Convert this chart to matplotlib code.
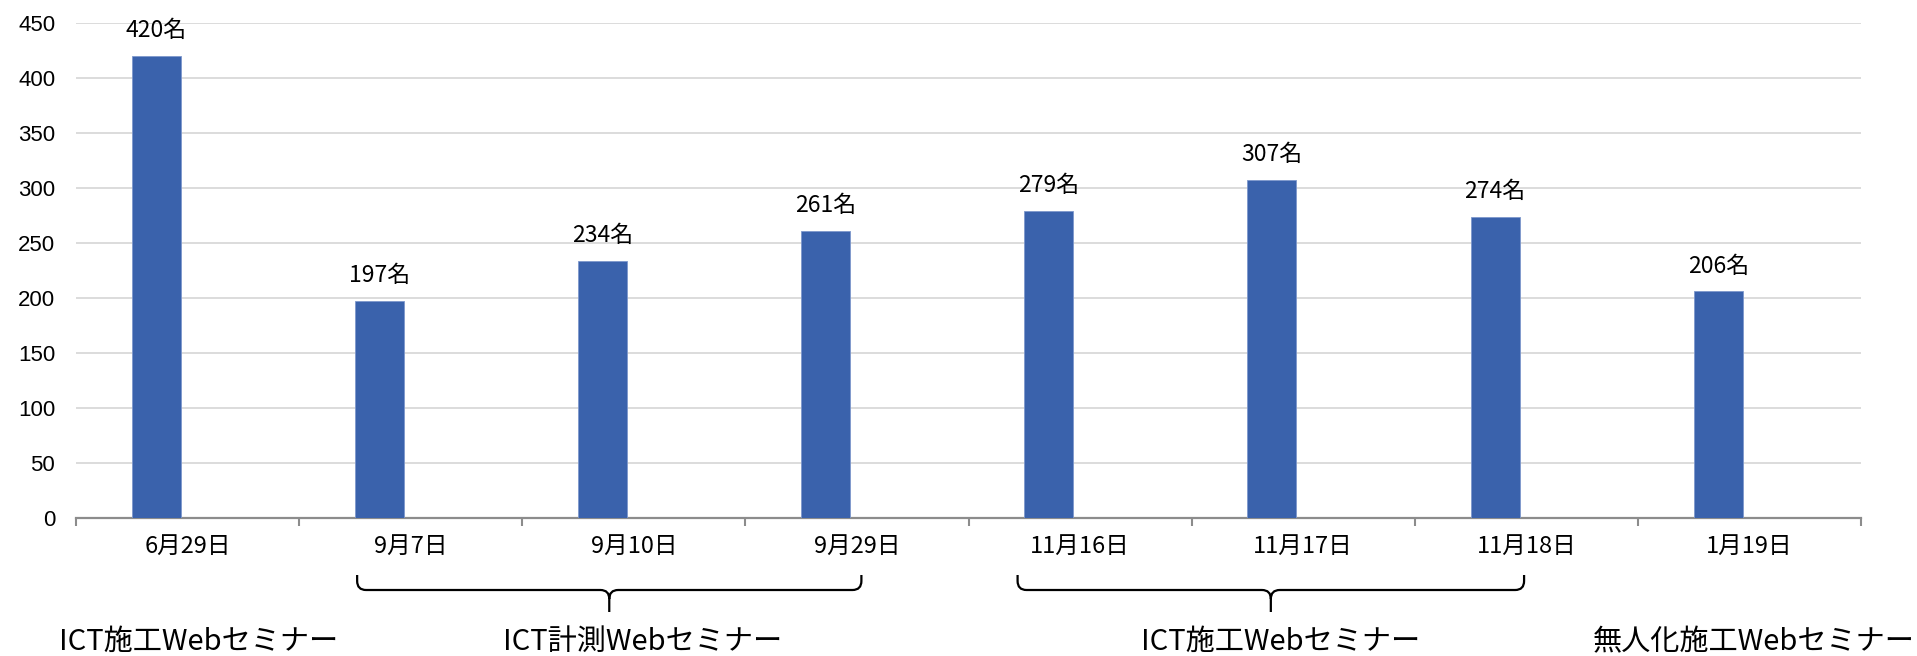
import numpy as np
import matplotlib
matplotlib.use("Agg")
import matplotlib.pyplot as plt
from matplotlib.path import Path
from matplotlib.patches import PathPatch
from matplotlib.transforms import blended_transform_factory

plt.rcParams['font.family'] = ['Noto Sans CJK JP', 'DejaVu Sans']

# data
dates = ['6月29日', '9月7日', '9月10日', '9月29日', '11月16日', '11月17日', '11月18日', '1月19日']
attendees = [420, 197, 234, 261, 279, 307, 274, 206]
groups = ['ICT施工Webセミナー', 'ICT計測Webセミナー', 'ICT施工Webセミナー', '無人化施工Webセミナー']

# layout (category units)
group_x = [0.05, 2.04, 4.90, 7.02]
braces = [(0.76, 3.02), (3.72, 5.99)]

W, H = 1917, 656
fig = plt.figure(figsize=(W / 100, H / 100), dpi=100)
ax = fig.add_axes([76 / W, 1 - 518 / H, (1861 - 76) / W, (518 - 23) / H])

x = np.arange(len(dates))
ax.bar(x - 0.14, attendees, width=0.22, color='#3a62ac', edgecolor='#7d98cc',
       linewidth=0.6, zorder=3)
for xi, v in zip(x, attendees):
    ax.annotate(f'{v}名', (xi - 0.14, v), xytext=(0, 10), textcoords='offset points',
                ha='center', va='bottom', fontsize=16.5)

ax.set_xlim(-0.5, len(dates) - 0.5)
ax.set_ylim(0, 450)
ax.set_yticks(range(0, 451, 50))
ax.yaxis.grid(True, color='#d9d9d9', linewidth=1.3, zorder=0)
ax.set_axisbelow(True)
for s in ['top', 'right', 'left']:
    ax.spines[s].set_visible(False)
ax.spines['bottom'].set_color('#8c8c8c')
ax.spines['bottom'].set_linewidth(1.6)

ax.set_xticks(np.arange(-0.5, len(dates), 1))
ax.set_xticklabels([])
ax.tick_params(axis='x', which='major', length=6, width=1.5, color='#8c8c8c')
ax.set_xticks(x, minor=True)
ax.set_xticklabels(dates, minor=True, fontsize=17)
ax.tick_params(axis='x', which='minor', length=0, pad=12)
ax.tick_params(axis='y', length=0, pad=15, labelsize=16)
for lab in ax.get_yticklabels():
    lab.set_family(['Liberation Sans', 'DejaVu Sans'])

# braces
tr = blended_transform_factory(ax.transData, fig.transFigure)
ytop, ymid, ybot = 1 - 575 / H, 1 - 590 / H, 1 - 612 / H
rx, ry = 0.04, 9 / H
for x0, x1 in braces:
    xc = (x0 + x1) / 2
    verts = [(x0, ytop), (x0, ymid + ry), (x0, ymid), (x0 + rx, ymid),
             (xc - rx, ymid), (xc, ymid), (xc, ymid - ry), (xc, ybot),
             (xc, ymid - ry), (xc, ymid), (xc + rx, ymid),
             (x1 - rx, ymid), (x1, ymid), (x1, ymid + ry), (x1, ytop)]
    codes = [Path.MOVETO, Path.LINETO, Path.CURVE3, Path.CURVE3,
             Path.LINETO, Path.CURVE3, Path.CURVE3, Path.LINETO,
             Path.MOVETO, Path.CURVE3, Path.CURVE3,
             Path.LINETO, Path.CURVE3, Path.CURVE3, Path.LINETO]
    fig.add_artist(PathPatch(Path(verts, codes), transform=tr, fill=False,
                             edgecolor='black', linewidth=1.6))

for gx, g in zip(group_x, groups):
    fig.text(gx, 1 - 642 / H, g, transform=tr, ha='center', va='center', fontsize=21)

fig.savefig('out.png', dpi=100)
